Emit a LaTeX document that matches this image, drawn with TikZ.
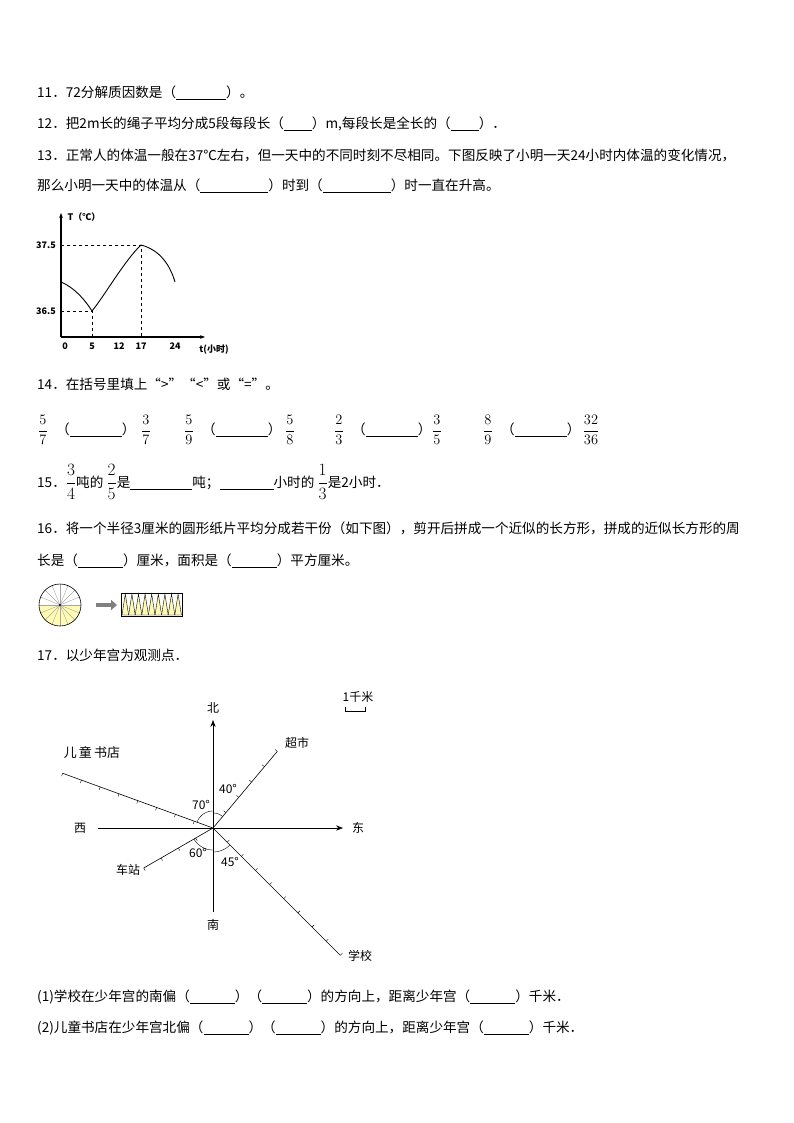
\documentclass[tikz,border=0pt]{standalone}
\usepackage{fontspec}
\setmainfont{Noto Sans CJK SC}
\usetikzlibrary{arrows.meta,calc}
\newcommand{\bl}[1]{\underline{\hspace{#1pt}}}
\begin{document}
\begin{tikzpicture}[x=1pt,y=-1pt,
  txt/.style={anchor=west,inner sep=0pt,font=\fontsize{13.6}{15}\selectfont},
  small/.style={inner sep=0pt,font=\fontsize{12}{14}\selectfont},
  gl/.style={inner sep=0pt,font=\fontsize{9}{10}\selectfont\bfseries},
  fr/.style={inner sep=0pt,font=\fontsize{15}{17}\selectfont},
  ray/.style={line width=0.6pt},
  ax/.style={line width=0.6pt,-{Stealth[length=7pt]}}]
\useasboundingbox (0,0) rectangle (794,1123);
\node[txt] (l11) at (37,93) {11．72分解质因数是（\bl{50}）。};
\node[txt] (l12) at (37,124) {12．把2m长的绳子平均分成5段每段长（\bl{28}）m,每段长是全长的（\bl{28}）．};
\node[txt] (l13a) at (37,155) {13．正常人的体温一般在37℃左右，但一天中的不同时刻不尽相同。下图反映了小明一天24小时内体温的变化情况，};
\node[txt] (l13b) at (37,186) {那么小明一天中的体温从（\bl{68}）时到（\bl{68}）时一直在升高。};
% graph
\draw[line width=1.2pt,-{Stealth[length=5pt]}] (61,337) -- (61,213);
\draw[line width=1.2pt,-{Stealth[length=5pt]}] (61,337) -- (205,337);
\draw[dashed,line width=0.7pt] (61,245) -- (141,245) -- (141,337);
\draw[dashed,line width=0.7pt] (61,311) -- (92,311) -- (92,337);
\draw[line width=0.9pt] (61,282) .. controls (75,288) and (85,300) .. (92,311)
  .. controls (105,295) and (125,260) .. (141,245) .. controls (160,250) and (170,265) .. (175,282);
\node[gl] (gT) at (84,217) {T（℃）};
\node[gl] (g375) at (46,245) {37.5};
\node[gl] (g365) at (46,311) {36.5};
\node[gl] (g0) at (65,346) {0};
\node[gl] (g5) at (92,346) {5};
\node[gl] (g12) at (119,346) {12};
\node[gl] (g17) at (141,346) {17};
\node[gl] (g24) at (175,346) {24};
\node[gl] (gt) at (214,350) {t(小时)};
\node[txt] (l14) at (37,384) {14．在括号里填上“>”“<”或“=”。};
% fractions
\foreach \x/\a/\b in {43/5/7, 189/5/9, 339/2/3, 488/8/9}{
  \node[fr] at (\x,430) {$\displaystyle\frac{\a}{\b}$};
  \node[txt] at (\x+13,430) {（\bl{52}）};
}
\node[fr] (f37) at (146,430) {$\displaystyle\frac{3}{7}$};
\node[fr] (f58) at (290,430) {$\displaystyle\frac{5}{8}$};
\node[fr] (f35) at (437,430) {$\displaystyle\frac{3}{5}$};
\node[fr] (f32) at (591,430) {$\displaystyle\frac{32}{36}$};
\node[txt] (l15) at (37,482) {15．{\fontsize{17}{19}\selectfont$\displaystyle\frac{3}{4}$}吨的 {\fontsize{17}{19}\selectfont$\displaystyle\frac{2}{5}$}是\bl{62}吨；\bl{54}小时的 {\fontsize{17}{19}\selectfont$\displaystyle\frac{1}{3}$}是2小时．};
\node[txt] (l16a) at (37,528) {16．将一个半径3厘米的圆形纸片平均分成若干份（如下图），剪开后拼成一个近似的长方形，拼成的近似长方形的周};
\node[txt] (l16b) at (37,561) {长是（\bl{45}）厘米，面积是（\bl{45}）平方厘米。};
% circle figure
\fill[yellow!30!white] plot[domain=180:360,samples=40] ({60+21*cos(\x)},{605-21*sin(\x)}) -- cycle;
\foreach \a in {0,22.5,...,359}{\draw[gray!70,line width=0.4pt] (60,605) -- ({60+21*cos(\a)},{605-21*sin(\a)});}
\draw[line width=0.6pt] (60,605) circle[radius=21pt];
\fill (60,605) circle[radius=1.2pt];
\draw[gray,line width=3.5pt,-{Triangle[length=6pt,width=10pt]}] (96,605) -- (117,605);
\foreach \i in {0,...,8}{
  \fill[yellow!30!white,draw=black,line width=0.4pt] (122+\i*6.6,615) -- (125.3+\i*6.6,594) -- (128.6+\i*6.6,615) -- cycle;}
\draw[line width=0.6pt] (121,593) rectangle (182,616);
\node[txt] (l17) at (37,655) {17．以少年宫为观测点．};
% compass
\coordinate (O) at (213,828);
\draw[ax] (213,912) -- (213,720);
\draw[ax] (98,828) -- (343,828);
\node[small] (N) at (213,708) {北};
\node[small] (S) at (213,925) {南};
\node[small] (W) at (80,828) {西};
\node[small] (E) at (358,828) {东};
\foreach \ang/\n/\name in {50/5/cs, -45/9/xx, 160/8/sd, 210/4/cz}{
  \coordinate (\name) at ($(O)+({20*\n*cos(\ang)},{-20*\n*sin(\ang)})$);
  \draw[ray] (O) -- (\name);
  \foreach \k in {1,...,\n}{
    \draw[line width=0.4pt] ($(O)+({20*\k*cos(\ang)},{-20*\k*sin(\ang)})$) -- ++({3*cos(\ang+90)},{-3*sin(\ang+90)});}
}
\node[small] (lcs) at (297,743) {超市};
\node[small] (lxx) at (360,956) {学校};
\node[small,font=\fontsize{13}{14}\selectfont] (lsd) at (92,752) {儿\,童\,书店};
\node[small] (lcz) at (128,870) {车站};
\draw[line width=0.4pt] plot[domain=90:50,samples=20] ({213+15*cos(\x)},{828-15*sin(\x)});
\draw[line width=0.4pt] plot[domain=90:160,samples=20] ({213+17*cos(\x)},{828-17*sin(\x)});
\draw[line width=0.4pt] plot[domain=-90:-45,samples=20] ({213+24*cos(\x)},{828-24*sin(\x)});
\draw[line width=0.4pt] plot[domain=-90:-150,samples=20] ({213+22*cos(\x)},{828-22*sin(\x)});
\node[small] (a40) at (228,789) {40°};
\node[small] (a70) at (201,805) {70°};
\node[small] (a60) at (198,853) {60°};
\node[small] (a45) at (230,862) {45°};
\node[small] (km) at (358,697) {1千米};
\draw[line width=0.5pt] (345,707) -- (345,711) -- (365,711) -- (365,707);
\node[txt] (q1) at (37,997) {(1)学校在少年宫的南偏（\bl{45}）（\bl{45}）的方向上，距离少年宫（\bl{45}）千米．};
\node[txt] (q2) at (37,1028) {(2)儿童书店在少年宫北偏（\bl{45}）（\bl{45}）的方向上，距离少年宫（\bl{45}）千米．};
\end{tikzpicture}
\end{document}
